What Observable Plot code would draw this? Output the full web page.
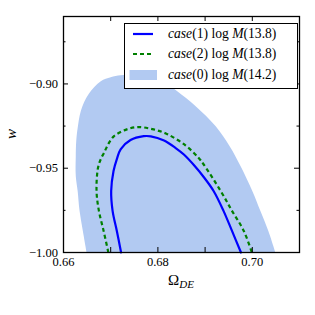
<!DOCTYPE html>
<html><head><meta charset="utf-8">
<script src="https://cdn.jsdelivr.net/npm/d3@7"></script>
<script src="https://cdn.jsdelivr.net/npm/@observablehq/plot@0.6"></script>
<style>
body{margin:0;background:#fff;}
#wrap{position:relative;width:315px;height:315px;font-family:'Liberation Serif','DejaVu Serif',serif;color:#000;overflow:hidden;}
#wrap > svg{position:absolute;left:0;top:0;}
#wrap svg text{font-family:'Liberation Serif','DejaVu Serif',serif;}
.legend{position:absolute;left:123.5px;top:22.7px;width:174px;height:66.6px;box-sizing:border-box;border:1.3px solid #000;background:#fff;}
.row{position:absolute;left:0;width:172px;height:18px;}
.row svg{position:absolute;left:4.5px;top:0;}
.row span{position:absolute;left:43.5px;top:0;line-height:18px;font-size:13.6px;white-space:nowrap;}
.xlab{position:absolute;left:63px;width:236px;top:272.7px;text-align:center;font-size:15px;line-height:15px;}
.ylab{position:absolute;left:1px;top:126px;width:20px;height:16px;text-align:center;font-size:15px;line-height:16px;font-style:italic;transform:rotate(-90deg);}
</style></head>
<body><div id="wrap"></div>
<script>
// case(0) log M(14.2) filled region boundary
const case0Omega = [0.6649,0.6641,0.6634,0.6630,0.6626,0.6626,0.6627,0.6630,0.6637,0.6653,0.6679,0.6700,0.6721,0.6747,0.6774,0.6801,0.6823,0.6841,0.6880,0.6922,0.6952,0.6975,0.7000,0.7017,0.7034,0.7049];
const case0W     = [-1.000,-0.9872,-0.9753,-0.9635,-0.9546,-0.9428,-0.9339,-0.9262,-0.9157,-0.9061,-0.8984,-0.8960,-0.8949,-0.8943,-0.8952,-0.8978,-0.9008,-0.9043,-0.9132,-0.9250,-0.9369,-0.9487,-0.9635,-0.9753,-0.9872,-1.000];
// case(1) log M(13.8) solid contour
const case1Omega = [0.6722,0.6713,0.6704,0.6701,0.6706,0.6713,0.6721,0.6742,0.6770,0.6785,0.6813,0.6837,0.6855,0.6878,0.6897,0.6918,0.6939,0.6957,0.6976];
const case1W     = [-1.000,-0.9872,-0.9753,-0.9635,-0.9517,-0.9446,-0.9388,-0.9333,-0.9310,-0.9311,-0.9336,-0.9379,-0.9419,-0.9487,-0.9552,-0.9635,-0.9753,-0.9872,-1.000];
// case(2) log M(13.8) dashed contour
const case2Omega = [0.6695,0.6685,0.6675,0.6670,0.6673,0.6679,0.6686,0.6696,0.6707,0.6730,0.6756,0.6788,0.6820,0.6859,0.6886,0.6897,0.6933,0.6957,0.6982,0.6999];
const case2W     = [-1.000,-0.9872,-0.9753,-0.9635,-0.9499,-0.9446,-0.9408,-0.9351,-0.9310,-0.9274,-0.9256,-0.9268,-0.9298,-0.9366,-0.9438,-0.9478,-0.9635,-0.9753,-0.9872,-1.000];

const xTicks = [0.66,0.67,0.68,0.69,0.70];
const xTickLabels = [0.66,0.68,0.70];
const yMajorTicks = [-1.00,-0.95,-0.90];
const yMinorTicks = [-0.975,-0.925,-0.875];
const xDomain = [0.66,0.71];
const yDomain = [-1.00,-0.86];

const legendLabels = [
  '<i>case</i>(1) log <i>M</i>(13.8)',
  '<i>case</i>(2) log <i>M</i>(13.8)',
  '<i>case</i>(0) log <i>M</i>(14.2)'
];

const toPts = (xs, ys) => xs.map((x, i) => ({x, y: ys[i]}));
const c0 = toPts(case0Omega, case0W), c1 = toPts(case1Omega, case1W), c2 = toPts(case2Omega, case2W);
const fmt = d3.format(".2f");
const fillColor = "#b2caf2";
const serif = "'Liberation Serif','DejaVu Serif',serif";

const chart = Plot.plot({
  width: 315, height: 315,
  marginLeft: 63, marginRight: 16, marginTop: 16, marginBottom: 63,
  style: {fontFamily: serif, fontSize: "12.5px", background: "transparent", color: "#000"},
  x: {domain: xDomain, axis: null},
  y: {domain: yDomain, axis: null},
  marks: [
    Plot.line(c0, {x: "x", y: "y", fill: fillColor, stroke: "none", curve: "catmull-rom"}),
    Plot.line(c2, {x: "x", y: "y", stroke: "#008000", strokeWidth: 2.2, strokeDasharray: "4,3", strokeLinecap: "butt", curve: "catmull-rom"}),
    Plot.line(c1, {x: "x", y: "y", stroke: "#0000ff", strokeWidth: 2.2, curve: "catmull-rom"}),
    Plot.frame({stroke: "#000", strokeWidth: 1.3}),
    Plot.ruleX(xTicks, {x: d => d, y1: yDomain[0], y2: yDomain[0], insetBottom: 5, stroke: "#000"}),
    Plot.ruleX(xTicks, {x: d => d, y1: yDomain[1], y2: yDomain[1], insetTop: 5, stroke: "#000"}),
    Plot.ruleY(yMajorTicks, {y: d => d, x1: xDomain[0], x2: xDomain[0], insetLeft: 5, stroke: "#000"}),
    Plot.ruleY(yMajorTicks, {y: d => d, x1: xDomain[1], x2: xDomain[1], insetRight: 5, stroke: "#000"}),
    Plot.ruleY(yMinorTicks, {y: d => d, x1: xDomain[0], x2: xDomain[0], insetLeft: 2.5, stroke: "#000"}),
    Plot.ruleY(yMinorTicks, {y: d => d, x1: xDomain[1], x2: xDomain[1], insetRight: 2.5, stroke: "#000"}),
    Plot.axisX(xTickLabels, {tickSize: 0, tickPadding: 5, tickFormat: fmt, fontSize: 12.5, fontFamily: serif, label: null}),
    Plot.axisY(yMajorTicks, {tickSize: 0, tickPadding: 5.5, tickFormat: fmt, fontSize: 12.5, fontFamily: serif, label: null})
  ]
});

const wrap = document.getElementById("wrap");
wrap.appendChild(chart);

// axis titles
const xl = document.createElement("div");
xl.className = "xlab";
xl.innerHTML = 'Ω<sub style="font-style:italic;font-size:11px;vertical-align:-3px;">DE</sub>';
wrap.appendChild(xl);
const yl = document.createElement("div");
yl.className = "ylab";
yl.textContent = "w";
wrap.appendChild(yl);

// legend
const lg = document.createElement("div");
lg.className = "legend";
const rowCenters = [10, 30.3, 51];
const handles = [
  '<svg width="30" height="18"><line x1="4" x2="24" y1="9" y2="9" stroke="#0000ff" stroke-width="2.2"/></svg>',
  '<svg width="30" height="18"><line x1="4" x2="24" y1="9" y2="9" stroke="#008000" stroke-width="2.2" stroke-dasharray="4,3"/></svg>',
  '<svg width="30" height="18"><rect x="0.5" y="4" width="27.5" height="10" fill="' + fillColor + '"/></svg>'
];
legendLabels.forEach((lab, i) => {
  const r = document.createElement("div");
  r.className = "row";
  r.style.top = (rowCenters[i] - 9) + "px";
  r.innerHTML = handles[i] + "<span>" + lab + "</span>";
  lg.appendChild(r);
});
wrap.appendChild(lg);
</script>
</body></html>
